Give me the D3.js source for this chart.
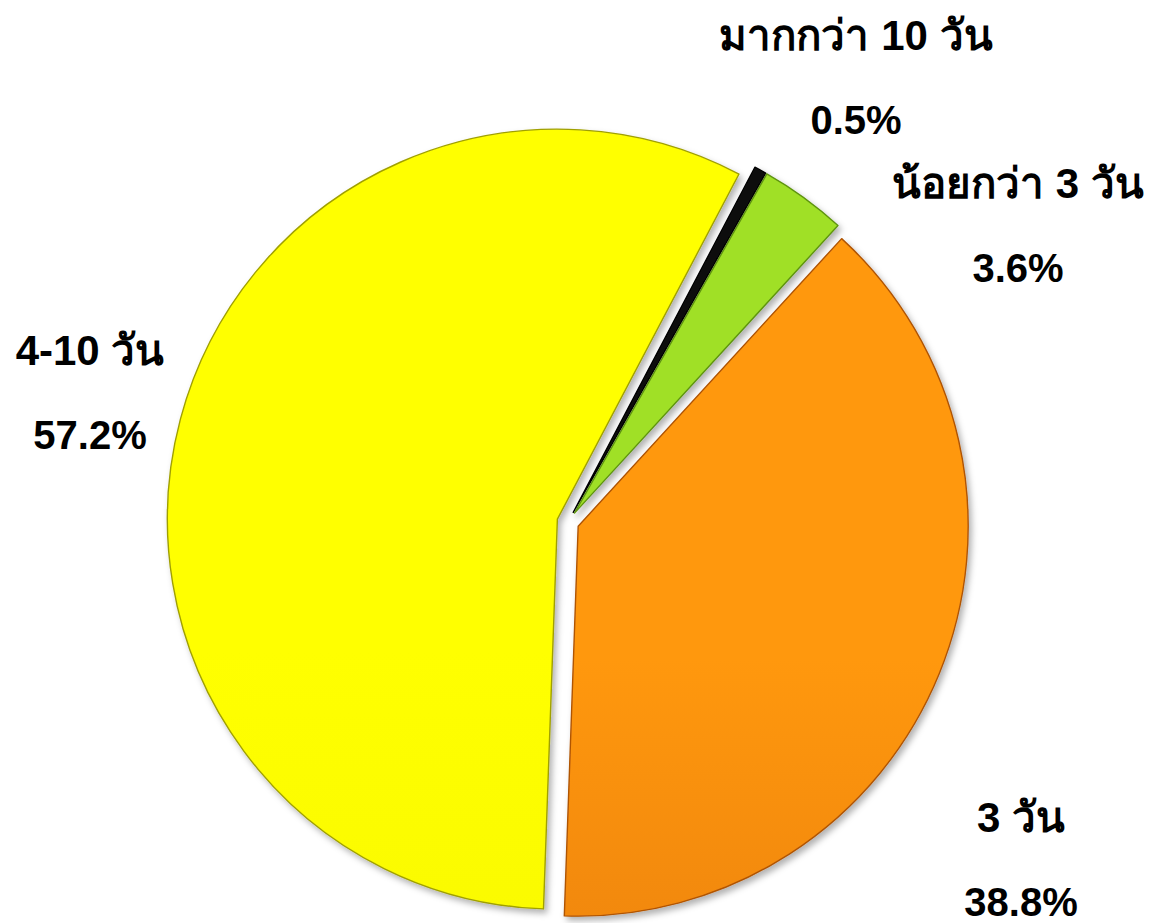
<!DOCTYPE html>
<html>
<head>
<meta charset="utf-8">
<script src="https://cdn.jsdelivr.net/npm/d3@7"></script>
<style>
	body { margin: 0; background: #fff; }
	text { font-family: "Liberation Sans", Arial, sans-serif; font-weight: bold; font-size: 40px; fill: #000; }
	text.name { font-size: 42px; }
</style>
</head>
<body>
<div id="chart"></div>
<script>
// values, clockwise from the top right
var categories = ["3 วัน", "4-10 วัน", "มากกว่า 10 วัน", "น้อยกว่า 3 วัน"];
var shares = [38.8, 57.2, 0.5, 3.6];
var valueLabels = ["38.8%", "57.2%", "0.5%", "3.6%"];

var conf = {
	width: 1157, height: 923,
	cx: 568, cy: 522,
	radius: 390,
	explode: 11,
	startAngle: 42.5 * Math.PI / 180
};

// fill gradients [top, bottom] and edge colour per slice
var sliceStyle = [
	{ top: "#ff980e", bottom: "#d86a08", edge: "#b05406" },
	{ top: "#ffff00", bottom: "#f2f200", edge: "#a0a000" },
	{ top: "#111111", bottom: "#000000", edge: "#000000" },
	{ top: "#a0e028", bottom: "#86c81c", edge: "#5e9410" }
];

// label centres (label line, value line)
var labelAt = [
	[1021, 832], [90, 365], [856, 50], [1018, 198]
];
var lineGap = 84;

var $svg = d3.select("#chart").append("svg")
	.attr("width", conf.width)
	.attr("height", conf.height);

var defs = $svg.append("defs");
var shadow = defs.append("filter")
	.attr("id", "shadow")
	.attr("x", "-10%").attr("y", "-10%")
	.attr("width", "130%").attr("height", "130%");
shadow.append("feDropShadow")
	.attr("dx", 3).attr("dy", 4)
	.attr("stdDeviation", 3)
	.attr("flood-color", "#000")
	.attr("flood-opacity", 0.3);

sliceStyle.forEach(function(s, i) {
	var g = defs.append("linearGradient")
		.attr("id", "grad-" + i)
		.attr("gradientUnits", "userSpaceOnUse")
		.attr("x1", 0).attr("y1", conf.cy - conf.radius)
		.attr("x2", 0).attr("y2", conf.cy + conf.radius);
	g.append("stop").attr("offset", "0%").attr("stop-color", s.top);
	g.append("stop").attr("offset", "100%").attr("stop-color", s.bottom);
});

var pie = d3.pie()
	.value(function(d) { return d; })
	.sort(null)
	.startAngle(conf.startAngle)
	.endAngle(conf.startAngle + 2 * Math.PI);

var arc = d3.arc()
	.innerRadius(0)
	.outerRadius(conf.radius);

var $pie = $svg.append("g")
	.attr("transform", "translate(" + conf.cx + "," + conf.cy + ")");

$pie.selectAll("path.slice")
	.data(pie(shares))
	.enter()
	.append("path")
	.attr("class", "slice")
	.attr("transform", function(d) {
		var mid = (d.startAngle + d.endAngle) / 2;
		return "translate(" + (conf.explode * Math.sin(mid)) + "," + (-conf.explode * Math.cos(mid)) + ")";
	})
	.attr("d", arc)
	.attr("fill", function(d, i) { return "url(#grad-" + i + ")"; })
	.attr("stroke", function(d, i) { return sliceStyle[i].edge; })
	.attr("stroke-width", 1.4)
	.attr("stroke-linejoin", "round")
	.attr("filter", "url(#shadow)");

var $labels = $svg.selectAll("g.label")
	.data(categories)
	.enter()
	.append("g")
	.attr("class", "label")
	.attr("transform", function(d, i) { return "translate(" + labelAt[i][0] + "," + labelAt[i][1] + ")"; });

$labels.append("text")
	.attr("class", "name")
	.attr("text-anchor", "middle")
	.text(function(d) { return d; });

$labels.append("text")
	.attr("text-anchor", "middle")
	.attr("y", lineGap)
	.text(function(d, i) { return valueLabels[i]; });
</script>
</body>
</html>
